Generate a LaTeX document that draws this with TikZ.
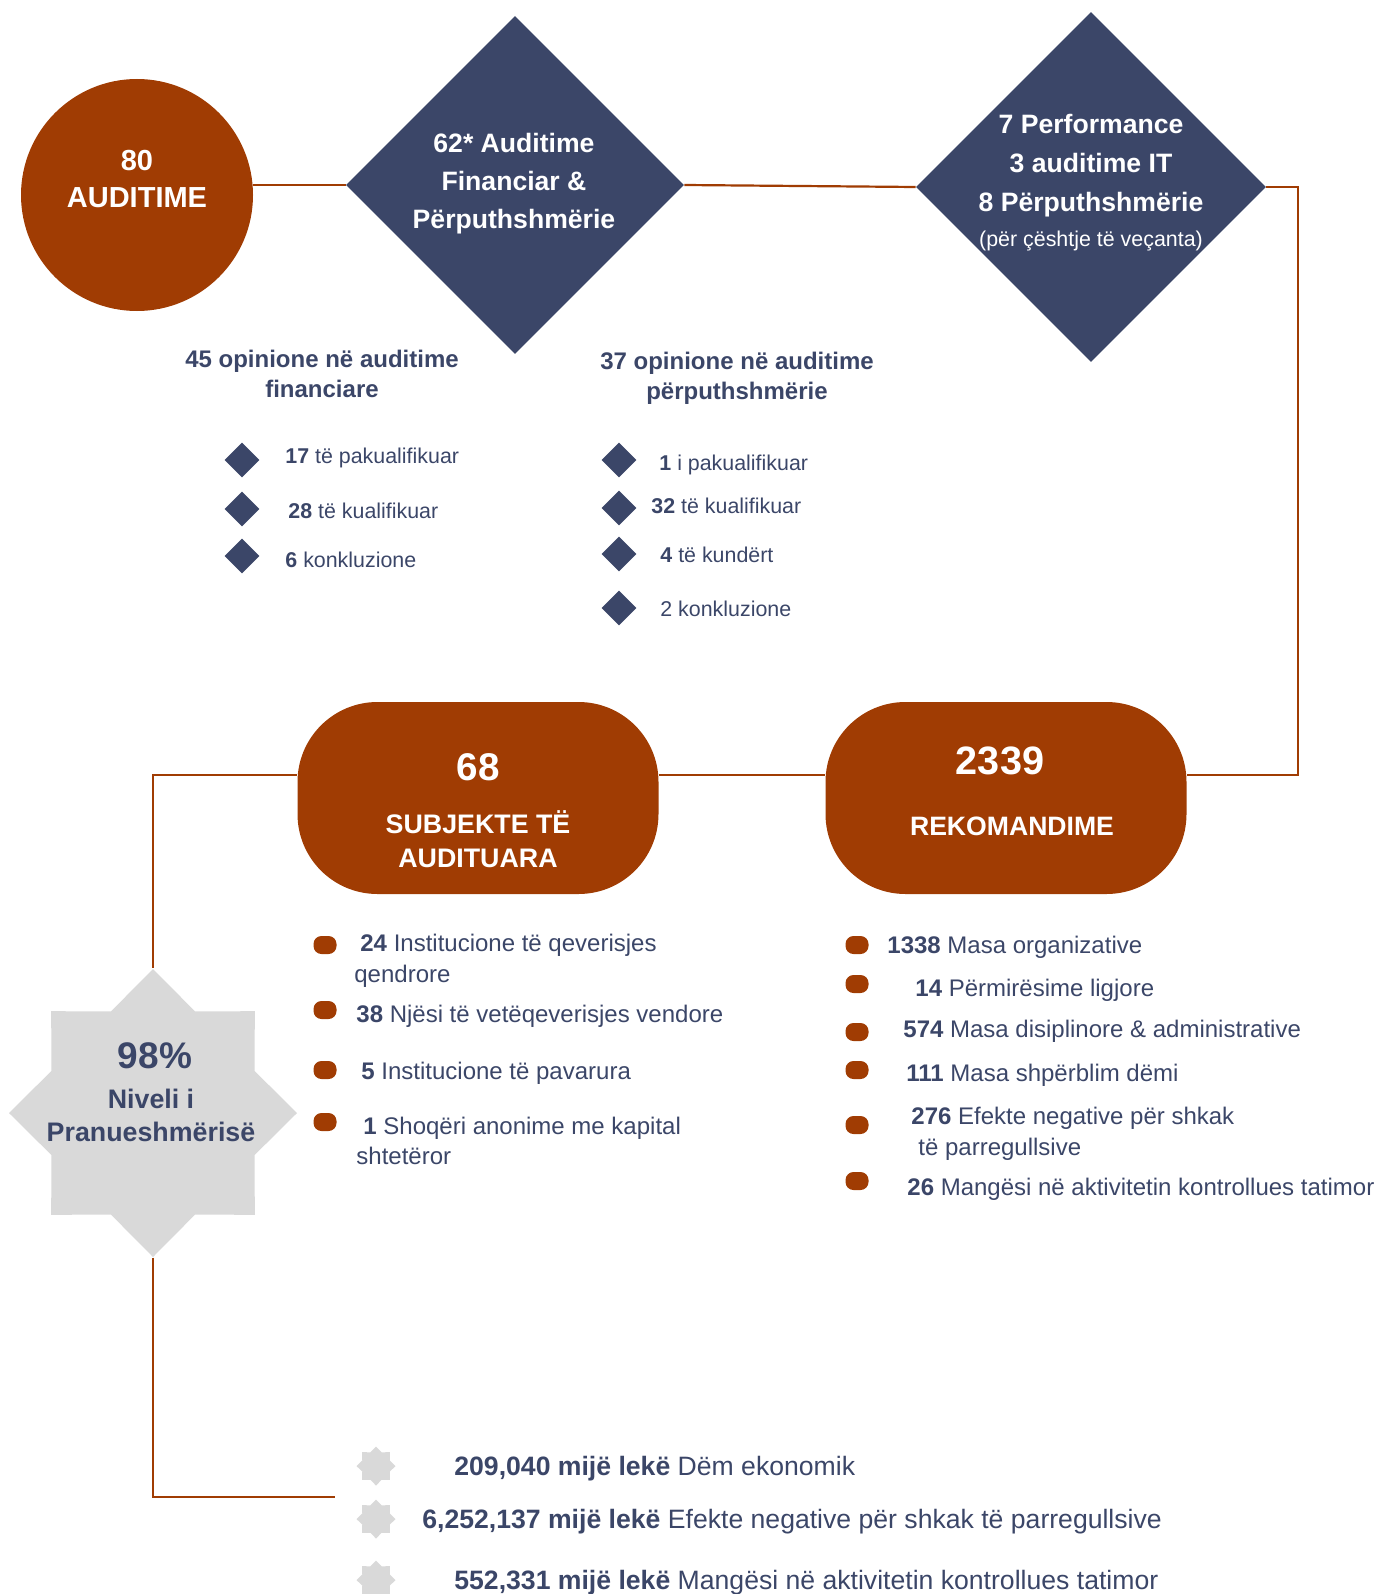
\documentclass[tikz,border=0pt]{standalone}
\usepackage{fontspec}
\setmainfont{Liberation Sans}
\usetikzlibrary{shapes.geometric,positioning}
\definecolor{brick}{RGB}{160,60,3}
\definecolor{navy}{RGB}{59,70,104}
\definecolor{starGray}{RGB}{217,217,217}
\newcommand\setfs[2]{\fontsize{#1}{#2}\selectfont}
\tikzset{
  wire/.style={draw=brick, line width=1.1pt},
  bigdia/.style={diamond, fill=navy, inner sep=0pt},
  lower/.style={yshift=-1.5pt},
  headtxt/.style={lower, text=white, align=center, font=\bfseries\setfs{13.3}{19}},
  pill/.style={fill=brick, rounded corners=40pt, minimum width=180.5pt, minimum height=96pt, inner sep=0pt},
  litem/.style={lower, anchor=west, text=navy, align=left, inner sep=0pt, font=\setfs{12}{15.25}},
  sitem/.style={lower, anchor=west, text=navy, inner sep=0pt, font=\setfs{10.7}{13}},
  obullet/.style={fill=brick, rounded corners=4pt, minimum width=11.5pt, minimum height=9pt, inner sep=0pt},
  nbullet/.style={diamond, fill=navy, minimum size=17.5pt, inner sep=0pt},
  gstar/.style={star, star points=8, star point ratio=1.31, fill=starGray, inner sep=0pt},
}
\begin{document}
\begin{tikzpicture}[x=0.5pt,y=-0.5pt]
    \useasboundingbox (0,0) rectangle (1379,1594);

    \node[circle, fill=brick, minimum size=116pt, inner sep=0pt] (aud) at (137,195) {};
    \node[headtxt, font=\bfseries\setfs{14.5}{18.5}] (audtxt) at (137,176) {80\\AUDITIME};
    \node[bigdia, minimum size=169pt] (d1) at (515,185) {};
    \node[headtxt] (d1txt) at (514,181) {62* Auditime\\Financiar \&\\Përputhshmërie};
    \node[bigdia, minimum size=175pt] (d2) at (1091,187) {};
    \node[headtxt, font=\bfseries\setfs{13.3}{19.5}] (d2txt) at (1091,163) {7 Performance\\3 auditime IT\\8 Përputhshmërie};
    \node[lower, text=white, font=\setfs{10.7}{13}] (d2note) at (1091,238) {(për çështje të veçanta)};

    \draw[wire] (aud.east |- d1.west) -- (d1.west);
    \draw[wire] (d1.east) -- (d2.west);

    \node[lower, text=navy, align=center, font=\bfseries\setfs{12}{15}] (finlbl) at (322,371) {45 opinione në auditime\\financiare};
    \node[lower, text=navy, align=center, font=\bfseries\setfs{12}{15}] (perlbl) at (737,375) {37 opinione në auditime\\përputhshmërie};

    \foreach \n/\by/\tx/\ty/\t in {1/460/285/455/{\textbf{17} të pakualifikuar}, 2/509/288/508/{\textbf{28} të kualifikuar}, 3/556/285/557/{\textbf{6} konkluzione}}
        {\node[nbullet] (fb\n) at (242,\by) {}; \node[sitem] (ft\n) at (\tx,\ty) {\t};}
    \foreach \n/\by/\tx/\ty/\t in {1/460/659/462/{\textbf{1} i pakualifikuar}, 2/508/651/503/{\textbf{32} të kualifikuar}, 3/554/660/552/{\textbf{4} të kundërt}, 4/608/660/606/{2 konkluzione}}
        {\node[nbullet] (pb\n) at (619,\by) {}; \node[sitem] (pt\n) at (\tx,\ty) {\t};}

    \node[pill] (subj) at (478,798) {};
    \node[text=white, font=\bfseries\setfs{19.3}{22}] (subjnum) at (478,767) {68};
    \node[headtxt, font=\bfseries\setfs{13.4}{17}] (subjtxt) at (478,836) {SUBJEKTE TË\\AUDITUARA};
    \node[pill] (rek) at (1006,798) {};
    \node[text=white, font=\bfseries\setfs{19.8}{22}] (reknum) at (1000,761) {2339};
    \node[headtxt] (rektxt) at (1012,823) {REKOMANDIME};

    \coordinate (lvl) at (0,775);
    \coordinate (rturn) at (1298,187);
    \draw[wire] (d2.east) -- (rturn) |- (rek.east |- lvl);
    \draw[wire] (subj.east |- lvl) -- (rek.west |- lvl);

    \foreach \n/\by/\tx/\ty/\t in {1/945/354/958/{\hspace*{3pt}\textbf{24} Institucione të qeverisjes\\qendrore}, 2/1010/356/1013/{\textbf{38} Njësi të vetëqeverisjes vendore}, 3/1070/361/1070/{\textbf{5} Institucione të pavarura}, 4/1122/356/1138/{\hspace*{3.5pt}\textbf{1} Shoqëri anonime me kapital\\shtetëror}}
        {\node[obullet] (sb\n) at (325,\by) {}; \node[litem] (st\n) at (\tx,\ty) {\t};}
    \foreach \n/\by/\tx/\ty/\t in {1/945/887/944/{\textbf{1338} Masa organizative}, 2/984/915/987/{\textbf{14} Përmirësime ligjore}, 3/1032/903/1028/{\textbf{574} Masa disiplinore \& administrative}, 4/1070/906/1072/{\textbf{111} Masa shpërblim dëmi}, 5/1125/911/1131/{\textbf{276} Efekte negative për shkak\\\hspace*{3.5pt}të parregullsive}, 6/1181/907/1186/{\textbf{26} Mangësi në aktivitetin kontrollues tatimor}}
        {\node[obullet] (rb\n) at (857,\by) {}; \node[litem] (rt\n) at (\tx,\ty) {\t};}

    \node[gstar, minimum size=144pt] (niv) at (153,1113) {};
    \node[text=navy, font=\bfseries\setfs{18.5}{22}] (pct) at (155,1056) {98\%};
    \node[text=navy, align=center, font=\bfseries\setfs{13.4}{16.5}] (nivtxt) at (151,1115) {Niveli i\\Pranueshmërisë};
    \draw[wire] (subj.west |- lvl) -| (niv.north);

    \coordinate (bend) at (335,1497);
    \draw[wire] (niv.south) |- (bend);

    \foreach \n/\y/\x/\t in {1/1466/454/{\textbf{209,040 mijë lekë} Dëm ekonomik}, 2/1519/422/{\textbf{6,252,137 mijë lekë} Efekte negative për shkak të parregullsive}, 3/1580/454/{\textbf{552,331 mijë lekë} Mangësi në aktivitetin kontrollues tatimor}}
        {\node[gstar, minimum size=19.5pt] (ls\n) at (376,\y) {}; \node[litem, font=\setfs{13.3}{16}] (lt\n) at (\x,\y) {\t};}
\end{tikzpicture}
\end{document}
